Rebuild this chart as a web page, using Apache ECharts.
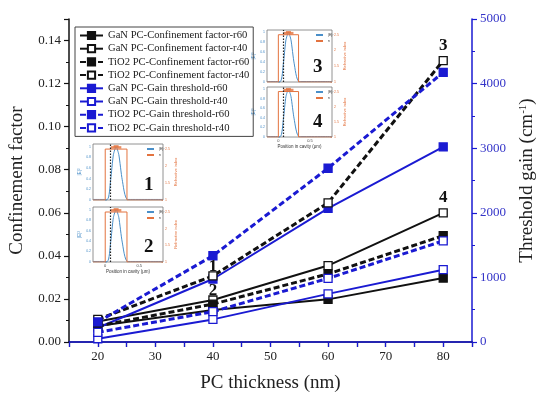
<!DOCTYPE html>
<html>
<head>
<meta charset="utf-8">
<script src="https://cdn.jsdelivr.net/npm/echarts@6/dist/echarts.min.js"></script>
<style>html,body{margin:0;padding:0;background:#fff}#c{width:550px;height:398px}</style>
</head>
<body>
<div id="c"></div>
<script>
// ---------- data ----------
const thickness = [20, 40, 60, 80];
const xTickLabels = [20, 30, 40, 50, 60, 70, 80];
const ganCfR60 = [0.0074, 0.0149, 0.0198, 0.0297];
const ganCfR40 = [0.0095, 0.0195, 0.0355, 0.0600];
const tio2CfR60 = [0.0074, 0.0176, 0.0316, 0.0494];
const tio2CfR40 = [0.0105, 0.0307, 0.0646, 0.1307];
const ganGtR60 = [220, 975, 2070, 3020];
const ganGtR40 = [50, 350, 745, 1120];
const tio2GtR60 = [310, 1335, 2690, 4175];
const tio2GtR40 = [150, 470, 985, 1565];
// point tags (text labels attached to points: index -> text)
const tagsTio2CfR40 = {1: '1', 3: '3'};
const tagsGanCfR40 = {1: '2', 3: '4'};
// inset (mode profile) data
const insetX = [-0.18, 0.03, 0.08, 0.12, 0.16, 0.20, 0.25, 0.33, 0.85];
const insetField = [0.01, 0.01, 0.38, 0.85, 1.0, 0.85, 0.38, 0.01, 0.01];
const insetIndexX = [-0.18, 0, 0, 0.32, 0.32, 0.85];
const insetIndexN = [1, 1, 2.5, 2.5, 1, 1];
const insetPeakX = [0.12, 0.16, 0.20];
const insetPeakN = [2.55, 2.58, 2.55];
const insetDotX = 0.07;
const insetTags = ['1', '2', '3', '4'];

// ---------- styles ----------
const SERIF = '"Liberation Serif", "Times New Roman", serif';
const BLUE = '#1a1ad2';
const BLACK = '#111';
const EF = '#4a8fc9';
const NC = '#e3733f';

function pts(xs, ys, tags) {
  return xs.map((x, i) => {
    const d = {value: [x, ys[i]]};
    if (tags && tags[i] !== undefined) {
      d.label = {show: true, formatter: tags[i], position: 'top',
        distance: i === 1 ? -4 : 2,
        fontFamily: SERIF, fontWeight: 'bold', fontSize: 17, color: '#111'};
    }
    return d;
  });
}
function mk(name, ys, color, filled, dashed, yIdx, tags) {
  return {
    name, type: 'line', xAxisIndex: 0, yAxisIndex: yIdx,
    data: pts(thickness, ys, tags),
    symbol: 'rect', symbolSize: 8,
    itemStyle: {color: filled ? color : '#fff', borderColor: color, borderWidth: 1.3},
    lineStyle: {color, width: dashed ? 3 : 2, type: dashed ? [6, 3] : 'solid'},
    z: dashed ? 4 : 3
  };
}
const mainSeries = [
  mk('GaN PC-Confinement factor-r60', ganCfR60, BLACK, true, false, 0),
  mk('GaN PC-Confinement factor-r40', ganCfR40, BLACK, false, false, 0, tagsGanCfR40),
  mk('TiO2 PC-Confinement factor-r60', tio2CfR60, BLACK, true, true, 0),
  mk('TiO2 PC-Confinement factor-r40', tio2CfR40, BLACK, false, true, 0, tagsTio2CfR40),
  mk('GaN PC-Gain threshold-r60', ganGtR60, BLUE, true, false, 1),
  mk('GaN PC-Gain threshold-r40', ganGtR40, BLUE, false, false, 1),
  mk('TiO2 PC-Gain threshold-r60', tio2GtR60, BLUE, true, true, 1),
  mk('TiO2 PC-Gain threshold-r40', tio2GtR40, BLUE, false, true, 1)
];

// ---------- layout ----------
const insets = [
  {left: 93, top: 144, width: 70, height: 56, xlab: false},
  {left: 93, top: 207, width: 70, height: 55, xlab: true},
  {left: 267, top: 30, width: 65, height: 52, xlab: false},
  {left: 267, top: 87, width: 65, height: 50, xlab: true}
];

const grids = [{left: 69, right: 78, top: 19, bottom: 56}];
const xAxes = [
  {gridIndex: 0, type: 'value', min: 15, max: 85, interval: 5, position: 'bottom',
   axisLine: {lineStyle: {color: BLACK, width: 1.5}},
   axisTick: {length: 5, lineStyle: {color: BLACK, width: 1.2}},
   axisLabel: {fontFamily: SERIF, fontSize: 13, color: '#222', margin: 8,
     formatter: v => xTickLabels.indexOf(v) >= 0 ? String(v) : ''},
   splitLine: {show: false},
   name: 'PC thickness (nm)', nameLocation: 'middle', nameGap: 32,
   nameTextStyle: {fontFamily: SERIF, fontSize: 19, color: '#222'}},
  {gridIndex: 0, type: 'value', min: 15, max: 85, interval: 5, position: 'top',
   axisLine: {lineStyle: {color: BLUE, width: 1.5}},
   axisTick: {inside: true, length: 5, lineStyle: {color: BLUE, width: 1.2}},
   axisLabel: {show: false}, splitLine: {show: false}}
];
const yAxes = [
  {gridIndex: 0, type: 'value', min: 0, max: 0.15, interval: 0.02, position: 'left',
   axisLine: {show: true, lineStyle: {color: BLACK, width: 1.5}},
   axisTick: {show: true, length: 5, lineStyle: {color: BLACK, width: 1.2}},
   minorTick: {show: true, splitNumber: 2, length: 3, lineStyle: {color: BLACK}},
   axisLabel: {fontFamily: SERIF, fontSize: 13, color: '#222', showMaxLabel: false,
     formatter: v => v.toFixed(2)},
   splitLine: {show: false},
   name: 'Confinement factor', nameLocation: 'middle', nameGap: 42,
   nameTextStyle: {fontFamily: SERIF, fontSize: 19, color: '#222'}},
  {gridIndex: 0, type: 'value', min: 0, max: 5000, interval: 1000, position: 'right',
   axisLine: {show: true, lineStyle: {color: BLUE, width: 1.5}},
   axisTick: {show: true, length: 5, lineStyle: {color: BLUE, width: 1.2}},
   minorTick: {show: true, splitNumber: 2, length: 3, lineStyle: {color: BLUE}},
   axisLabel: {fontFamily: SERIF, fontSize: 13, color: '#3434c8', margin: 8,
     formatter: v => String(v)},
   splitLine: {show: false},
   name: 'Threshold gain (cm{sup|-1})', nameLocation: 'middle', nameGap: 46,
   nameTextStyle: {fontFamily: SERIF, fontSize: 19, color: '#222',
     rich: {sup: {fontFamily: SERIF, fontSize: 11, color: '#222', verticalAlign: 'top', padding: [0, 0, 7, 0]}}}}
];
const legends = [{
  data: mainSeries.map(s => s.name), selectedMode: false,
  orient: 'vertical', left: 75, top: 27,
  borderColor: '#444', borderWidth: 1, padding: [3, 4, 3, 4],
  itemWidth: 23, itemHeight: 9, itemGap: 2.2,
  textStyle: {fontFamily: SERIF, fontSize: 10.6, color: '#222'}
}];
const series = mainSeries.slice();
const graphics = [];

insets.forEach((g, i) => {
  const gi = grids.length;
  grids.push({left: g.left, top: g.top, width: g.width, height: g.height, show: true,
    borderColor: '#777', borderWidth: 0.8, backgroundColor: '#fff', z: 1});
  const xi = xAxes.length;
  xAxes.push({gridIndex: gi, type: 'value', min: -0.18, max: 0.85,
    axisLine: {show: false},
    axisTick: {show: true, inside: true, length: 2, customValues: [0, 0.5], lineStyle: {color: '#777', width: 0.6}},
    axisLabel: {show: g.xlab, customValues: [0, 0.5], fontSize: 4, color: '#444', margin: 2,
      formatter: v => v === 0 ? '0' : String(v)},
    splitLine: {show: false},
    name: g.xlab ? 'Position in cavity (\u03bcm)' : '', nameLocation: 'middle', nameGap: 6,
    nameTextStyle: {fontSize: 4.5, color: '#333'}});
  const yl = yAxes.length;
  yAxes.push({gridIndex: gi, type: 'value', min: 0, max: 1.05, interval: 0.2, position: 'left',
    axisLine: {show: false},
    axisTick: {show: true, inside: true, length: 1.5, lineStyle: {color: EF, width: 0.6}},
    axisLabel: {fontSize: 3.5, color: EF, margin: 2, showMaxLabel: false,
      formatter: v => (v === 0 ? '0' : (Math.abs(v - 1) < 1e-9 ? '1' : v.toFixed(1)))},
    splitLine: {show: false},
    name: '|E|\u00b2', nameLocation: 'middle', nameGap: 8,
    nameTextStyle: {fontSize: 4.5, color: EF}});
  yAxes.push({gridIndex: gi, type: 'value', min: 1, max: 2.65, interval: 0.5, position: 'right',
    axisLine: {show: false},
    axisTick: {show: true, inside: true, length: 1.5, lineStyle: {color: NC, width: 0.6}},
    axisLabel: {fontSize: 3.5, color: NC, margin: 2, showMaxLabel: false},
    splitLine: {show: false},
    name: 'Refractive index', nameLocation: 'middle', nameGap: 11,
    nameTextStyle: {fontSize: 4, color: NC}});
  series.push({name: '|E|\u00b2', type: 'line', xAxisIndex: xi, yAxisIndex: yl,
    data: insetX.map((x, k) => [x, insetField[k]]), symbol: 'none', smooth: 0.2,
    lineStyle: {color: EF, width: 1}, itemStyle: {color: EF}, z: 3,
    markLine: {silent: true, symbol: ['none', 'none'], label: {show: false},
      lineStyle: {color: '#222', type: [1.5, 1.5], width: 1.2}, data: [{xAxis: insetDotX}]}});
  series.push({name: 'n', type: 'line', xAxisIndex: xi, yAxisIndex: yl + 1,
    data: insetIndexX.map((x, k) => [x, insetIndexN[k]]), symbol: 'none',
    lineStyle: {color: NC, width: 1}, itemStyle: {color: NC}, z: 3});
  series.push({name: 'nPeak', type: 'scatter', xAxisIndex: xi, yAxisIndex: yl + 1,
    data: insetPeakX.map((x, k) => [x, insetPeakN[k]]), symbol: 'rect', symbolSize: [5, 2.5],
    itemStyle: {color: NC}, z: 4});
  legends.push({data: ['|E|\u00b2', 'n'], selectedMode: false, orient: 'vertical',
    left: g.left + g.width - 17, top: g.top + 3, padding: 0,
    itemWidth: 7, itemHeight: 2, itemGap: 2, textStyle: {fontSize: 3.5, color: '#333'}});
  graphics.push({type: 'text', left: g.left + g.width - 19, top: g.top + g.height - 24, z: 10,
    style: {text: insetTags[i], font: 'bold 19px ' + SERIF, fill: '#111'}});
});

const chart = echarts.init(document.getElementById('c'), null, {renderer: 'canvas'});
chart.setOption({
  backgroundColor: '#fff',
  animation: false,
  grid: grids,
  xAxis: xAxes,
  yAxis: yAxes,
  legend: legends,
  series: series,
  graphic: graphics
});
</script>
</body>
</html>
